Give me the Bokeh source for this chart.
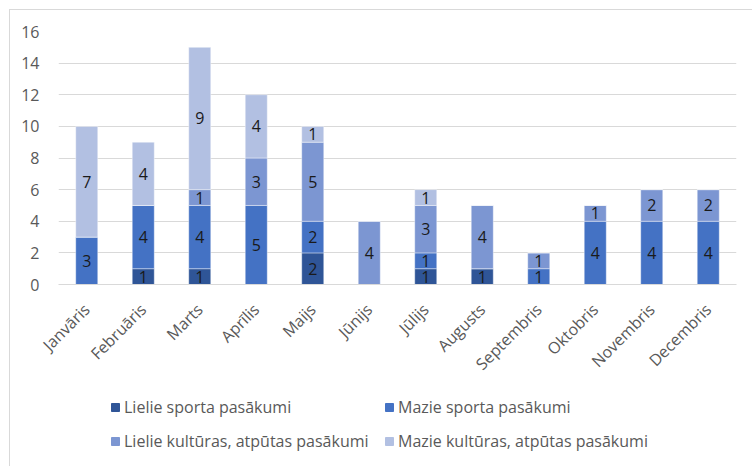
import math
import numpy as np
from bokeh.plotting import figure
from bokeh.layouts import column, row
from bokeh.models import (ColumnDataSource, Legend, LegendItem, Range1d, FactorRange,
                          FixedTicker, Spacer)
from bokeh.core.properties import value
from bokeh.embed import file_html
from bokeh.resources import INLINE

months = ["Janvāris", "Februāris", "Marts", "Aprīlis", "Maijs", "Jūnijs",
          "Jūlijs", "Augusts", "Septembris", "Oktobris", "Novembris", "Decembris"]
lielie_sporta = [0, 1, 1, 0, 2, 0, 1, 1, 0, 0, 0, 0]
mazie_sporta = [3, 4, 4, 5, 2, 0, 1, 0, 1, 4, 4, 4]
lielie_kulturas = [0, 0, 1, 3, 5, 4, 3, 4, 1, 1, 2, 2]
mazie_kulturas = [7, 4, 9, 4, 1, 0, 1, 0, 0, 0, 0, 0]
series_names = ["Lielie sporta pasākumi", "Mazie sporta pasākumi",
                "Lielie kultūras, atpūtas pasākumi", "Mazie kultūras, atpūtas pasākumi"]
y_ticks = [0, 2, 4, 6, 8, 10, 12, 14, 16]

colors = ["#2F5597", "#4472C4", "#7C96D2", "#B2C0E2"]
FONT = "Open Sans"
GREY = "#595959"
FS = "16px"

keys = ["s0", "s1", "s2", "s3"]
series = [lielie_sporta, mazie_sporta, lielie_kulturas, mazie_kulturas]
data = {"x": months}
for k, s in zip(keys, series):
    data[k] = s
src = ColumnDataSource(data)

p = figure(x_range=FactorRange(*months, range_padding=0), y_range=Range1d(0, 16),
           width=742, height=375, output_backend="svg", toolbar_location=None,
           min_border_left=48, min_border_right=16, min_border_top=21, min_border_bottom=100)
p.outline_line_color = None
p.background_fill_color = "white"
p.border_fill_color = "white"

renderers = p.vbar_stack(keys, x="x", width=0.39, color=colors, source=src,
                         line_color="white", line_width=0.6, line_alpha=0.7)

# data labels
arr = np.array(series, dtype=float)
cum = np.cumsum(arr, axis=0)
lx, ly, lt = [], [], []
for i in range(arr.shape[0]):
    for j, m in enumerate(months):
        v = arr[i, j]
        if v > 0:
            lx.append(m)
            ly.append(cum[i, j] - v / 2)
            lt.append(str(int(v)))
lsrc = ColumnDataSource(dict(x=lx, y=ly, t=lt))
p.text(x="x", y="y", text="t", source=lsrc, text_align="center", text_baseline="middle",
       text_font=value(FONT), text_font_size=FS, text_color="#1a1a1a")

p.xgrid.grid_line_color = None
p.ygrid.grid_line_color = "#d9d9d9"
p.ygrid.grid_line_width = 1

p.yaxis.ticker = FixedTicker(ticks=y_ticks)
p.yaxis.axis_line_color = None
p.yaxis.major_tick_line_color = None
p.yaxis.minor_tick_line_color = None
p.yaxis.major_label_text_font = FONT
p.yaxis.major_label_text_font_size = FS
p.yaxis.major_label_text_color = GREY
p.yaxis.major_label_standoff = 13

p.xaxis.axis_line_color = "#d9d9d9"
p.xaxis.major_tick_line_color = None
p.xaxis.minor_tick_line_color = None
p.xaxis.major_label_orientation = math.pi / 4
p.xaxis.major_label_text_font = FONT
p.xaxis.major_label_text_font_size = FS
p.xaxis.major_label_text_color = GREY
p.xaxis.major_label_standoff = 16

# legend in its own strip below the chart (same series, drawn out of view)
p2 = figure(x_range=FactorRange(*months), y_range=Range1d(100, 101), width=742, height=81,
            output_backend="svg", toolbar_location=None,
            x_axis_location=None, y_axis_location=None,
            min_border_left=0, min_border_right=0, min_border_top=0, min_border_bottom=0)
p2.grid.visible = False
p2.outline_line_color = None
lr = p2.vbar_stack(keys, x="x", width=0.39, color=colors, source=src)
items = [LegendItem(label=n, renderers=[r]) for n, r in zip(series_names, lr)]
legend = Legend(items=items, location=(52, 14), orientation="horizontal", ncols=2,
                glyph_width=10, glyph_height=10, label_standoff=4, label_width=248,
                label_height=20, spacing=12, padding=0, margin=0,
                border_line_color=None, background_fill_alpha=0,
                label_text_font=FONT, label_text_font_size=FS, label_text_color=GREY)
p2.add_layout(legend, "center")

BORDER = {"background-color": "#d9d9d9"}
layout = column(
    Spacer(width=752, height=9),
    row(Spacer(width=9, height=457),
        column(Spacer(width=743, height=1, styles=BORDER),
               row(Spacer(width=1, height=456, styles=BORDER),
                   column(p, p2)))))

open("out.html", "w").write(file_html(layout, INLINE))
